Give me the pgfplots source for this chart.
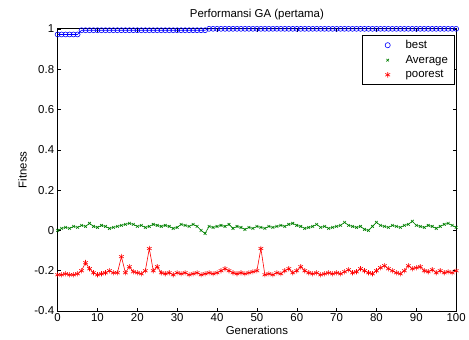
\documentclass[border=0pt]{standalone}
\usepackage{fontspec}
\setmainfont{Liberation Sans}
\usepackage{pgfplots}
\pgfplotsset{compat=1.18}
\definecolor{mblue}{rgb}{0,0,1}
\definecolor{mgreen}{rgb}{0,0.5,0}
\definecolor{mred}{rgb}{1,0,0}
\begin{document}
\begin{tikzpicture}
\begin{axis}[
  scale only axis, width=401pt, height=284pt,
  at={(0,0)}, anchor=south west,
  xmin=0, xmax=100, ymin=-0.4, ymax=1,
  xtick={0,10,...,100},
  ytick={-0.4,-0.2,0,0.2,0.4,0.6,0.8,1},
  yticklabels={-0.4,-0.2,0,0.2,0.4,0.6,0.8,1},
  tick align=inside, major tick length=3.5pt,
  tick style={black, line width=0.5pt},
  axis line style={line width=0.7pt},
  ticklabel style={font=\fontsize{11.5}{13}\selectfont},
  xticklabel style={yshift=1pt},
  /pgf/number format/assume math mode=true,
  title={Performansi GA (pertama)},
  title style={font=\fontsize{11.5}{13}\selectfont, yshift=-1pt},
  xlabel={Generations}, ylabel={Fitness},
  label style={font=\fontsize{11.5}{13}\selectfont},
  xlabel style={yshift=2pt}, ylabel style={yshift=1pt},
  clip=false,
  legend style={at={(0.995,0.978)}, anchor=north east, draw=black, line width=0.6pt,
     font=\fontsize{11.5}{13}\selectfont, inner xsep=4pt, inner ysep=3pt, row sep=1.5pt},
  legend cell align=left,
  legend image code/.code={\path (0cm,0cm) (1.3cm,0cm); \draw[#1] plot coordinates {(0.75cm,0cm)};},
]
\addlegendimage{only marks, mark=o, mblue, mark size=2.6pt}
\addlegendentry{best}
\addlegendimage{only marks, mark=x, mgreen, mark size=1.8pt}
\addlegendentry{Average}
\addlegendimage{only marks, mark=asterisk, mred, mark size=2.8pt}
\addlegendentry{poorest}

\addplot[forget plot, mblue, line width=0.6pt, mark=o, mark size=2.5pt] coordinates {
(0,0.972)(1,0.972)(2,0.972)(3,0.972)(4,0.972)(5,0.972)
(6,0.993)(7,0.993)(8,0.993)(9,0.993)(10,0.993)(11,0.993)(12,0.993)(13,0.993)(14,0.993)(15,0.993)
(16,0.993)(17,0.993)(18,0.993)(19,0.993)(20,0.993)(21,0.993)(22,0.993)(23,0.993)(24,0.993)(25,0.993)
(26,0.993)(27,0.993)(28,0.993)(29,0.993)(30,0.993)(31,0.993)(32,0.993)(33,0.993)(34,0.993)(35,0.993)
(36,0.993)(37,0.993)
(38,1)(39,1)(40,1)(41,1)(42,1)(43,1)(44,1)(45,1)(46,1)(47,1)(48,1)(49,1)(50,1)
(51,1)(52,1)(53,1)(54,1)(55,1)(56,1)(57,1)(58,1)(59,1)(60,1)(61,1)(62,1)(63,1)(64,1)(65,1)
(66,1)(67,1)(68,1)(69,1)(70,1)(71,1)(72,1)(73,1)(74,1)(75,1)(76,1)(77,1)(78,1)(79,1)(80,1)
(81,1)(82,1)(83,1)(84,1)(85,1)(86,1)(87,1)(88,1)(89,1)(90,1)(91,1)(92,1)(93,1)(94,1)(95,1)
(96,1)(97,1)(98,1)(99,1)(100,1)
};

\addplot[forget plot, mgreen, line width=0.6pt, mark=x, mark size=2pt] coordinates {
(0,0.0)(1,0.01)(2,0.015)(3,0.01)(4,0.02)(5,0.015)(6,0.025)(7,0.02)(8,0.035)(9,0.02)
(10,0.015)(11,0.025)(12,0.02)(13,0.01)(14,0.015)(15,0.02)(16,0.025)(17,0.03)(18,0.035)(19,0.03)
(20,0.02)(21,0.025)(22,0.015)(23,0.02)(24,0.03)(25,0.025)(26,0.02)(27,0.025)(28,0.02)(29,0.01)
(30,0.015)(31,0.03)(32,0.025)(33,0.02)(34,0.03)(35,0.02)(36,0.0)(37,-0.015)(38,0.02)(39,0.015)
(40,0.02)(41,0.025)(42,0.02)(43,0.03)(44,0.01)(45,0.02)(46,0.015)(47,0.005)(48,0.015)(49,0.01)
(50,0.02)(51,0.015)(52,0.01)(53,0.02)(54,0.015)(55,0.02)(56,0.025)(57,0.02)(58,0.03)(59,0.035)
(60,0.025)(61,0.02)(62,0.01)(63,0.015)(64,0.02)(65,0.03)(66,0.015)(67,0.02)(68,0.01)(69,0.015)
(70,0.02)(71,0.025)(72,0.04)(73,0.025)(74,0.02)(75,0.015)(76,0.02)(77,0.005)(78,0.0)(79,0.02)
(80,0.04)(81,0.025)(82,0.02)(83,0.015)(84,0.025)(85,0.02)(86,0.015)(87,0.025)(88,0.03)(89,0.045)
(90,0.025)(91,0.02)(92,0.015)(93,0.025)(94,0.02)(95,0.01)(96,0.02)(97,0.03)(98,0.035)(99,0.025)
(100,0.015)
};

\addplot[forget plot, mred, line width=0.6pt, mark=asterisk, mark size=2.7pt] coordinates {
(0,-0.22)(1,-0.22)(2,-0.215)(3,-0.22)(4,-0.22)(5,-0.215)(6,-0.20)(7,-0.16)(8,-0.19)(9,-0.21)
(10,-0.22)(11,-0.215)(12,-0.21)(13,-0.20)(14,-0.21)(15,-0.21)(16,-0.13)(17,-0.21)(18,-0.18)(19,-0.205)
(20,-0.21)(21,-0.215)(22,-0.20)(23,-0.09)(24,-0.20)(25,-0.18)(26,-0.21)(27,-0.215)(28,-0.21)(29,-0.22)
(30,-0.21)(31,-0.215)(32,-0.21)(33,-0.22)(34,-0.215)(35,-0.21)(36,-0.22)(37,-0.215)(38,-0.21)(39,-0.215)
(40,-0.21)(41,-0.20)(42,-0.19)(43,-0.20)(44,-0.21)(45,-0.215)(46,-0.21)(47,-0.215)(48,-0.21)(49,-0.205)
(50,-0.20)(51,-0.09)(52,-0.22)(53,-0.215)(54,-0.22)(55,-0.21)(56,-0.215)(57,-0.20)(58,-0.19)(59,-0.21)
(60,-0.20)(61,-0.18)(62,-0.20)(63,-0.21)(64,-0.215)(65,-0.21)(66,-0.22)(67,-0.215)(68,-0.21)(69,-0.215)
(70,-0.21)(71,-0.215)(72,-0.205)(73,-0.195)(74,-0.21)(75,-0.205)(76,-0.19)(77,-0.20)(78,-0.21)(79,-0.215)
(80,-0.20)(81,-0.185)(82,-0.175)(83,-0.19)(84,-0.20)(85,-0.21)(86,-0.215)(87,-0.20)(88,-0.175)(89,-0.19)
(90,-0.185)(91,-0.18)(92,-0.20)(93,-0.205)(94,-0.195)(95,-0.21)(96,-0.20)(97,-0.21)(98,-0.205)(99,-0.21)
(100,-0.20)
};
\end{axis}
\path (-58pt,-29pt) rectangle (411pt,313pt);
\end{tikzpicture}
\end{document}
